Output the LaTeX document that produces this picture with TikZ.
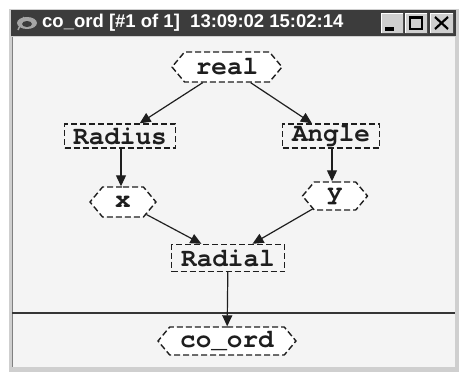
\documentclass[tikz,border=0pt]{standalone}
\usepackage{fontspec}
\newfontfamily\monofam{TeX Gyre Cursor}
\newfontfamily\titlefam{Liberation Sans}
\usetikzlibrary{shapes.symbols,arrows.meta}
\definecolor{bgcont}{HTML}{F4F4F4}
\definecolor{titlebar}{HTML}{3C3C3C}
\definecolor{frame}{HTML}{CFCFCF}
\definecolor{ink}{HTML}{1E1E1E}
\tikzset{
  hexnode/.style={signal, signal to=east and west, signal pointer angle=100,
    draw=ink, dash pattern=on 6pt off 3pt, line width=1.4pt, fill=white,
    inner sep=0pt, font=\monofam\bfseries\fontsize{26}{26}\selectfont, text=ink},
  boxnode/.style={rectangle, draw=ink, dash pattern=on 6pt off 3pt, line width=1.4pt,
    inner sep=0pt, font=\monofam\bfseries\fontsize{26}{26}\selectfont, text=ink},
  conn/.style={draw=ink, line width=1.2pt, -{Triangle[length=11pt,width=10pt]}},
}
\begin{document}
\begin{tikzpicture}[x=1pt,y=-1pt]
\useasboundingbox (0,0) rectangle (459,372);
\fill[white] (0,0) rectangle (459,372);
% window frame
\fill[frame] (8,8) rectangle (459,372);
\draw[white, line width=1pt] (8.5,372) -- (8.5,8.5) -- (459,8.5);
\fill[titlebar] (11,10) rectangle (456,36);
\fill[bgcont] (12,37) rectangle (455,367);
\draw[gray, line width=0.8pt] (12,37) -- (12,367);
% title
\node[anchor=west, text=white, font=\titlefam\bfseries\fontsize{18.5}{19}\selectfont, inner sep=0pt] (title) at (42,23) {co\_ord [\#1 of 1]\ \ 13:09:02 15:02:14};
% icon
\fill[gray!70] (27,23) ellipse (10pt and 6pt);
\fill[titlebar] (27,24) ellipse (5pt and 3pt);
\draw[gray!70, line width=1.5pt] (18,30) -- (24,17);
% buttons
\fill[frame] (381,13) rectangle (403,33);
\draw[white, line width=1pt] (381,33) -- (381,13) -- (403,13);
\draw[black!70, line width=1pt] (381,33) -- (403,33) -- (403,13);
\fill[black] (385,27) rectangle (394,31);
\fill[frame] (405,13) rectangle (427,33);
\draw[white, line width=1pt] (405,33) -- (405,13) -- (427,13);
\draw[black!70, line width=1pt] (405,33) -- (427,33) -- (427,13);
\draw[black, line width=1.2pt] (410,17) rectangle (422,29);
\draw[black, line width=2pt] (410,18) -- (422,18);
\fill[frame] (430,13) rectangle (453,33);
\draw[white, line width=1pt] (430,33) -- (430,13) -- (453,13);
\draw[black!70, line width=1pt] (430,33) -- (453,33) -- (453,13);
\draw[black, line width=2.2pt] (435,17) -- (448,29) (448,17) -- (435,29);
% separator line
\draw[ink!90, line width=2pt] (12,313) -- (455,313);
% nodes
\node[hexnode, minimum width=110pt, minimum height=30pt] (real) at (227,67) {real};
\node[boxnode, minimum width=111pt, minimum height=24pt] (radius) at (120,136) {Radius};
\node[boxnode, minimum width=97pt, minimum height=24pt] (angle) at (331,136) {Angle};
\node[hexnode, minimum width=66pt, minimum height=30pt] (xn) at (123,202) {x};
\node[hexnode, minimum width=65pt, minimum height=28pt] (yn) at (335,196) {y};
\node[boxnode, minimum width=113pt, minimum height=27pt] (radial) at (228,258) {Radial};
\node[hexnode, minimum width=138pt, minimum height=28pt] (coord) at (227,341) {co\_ord};
% connectors
\draw[conn] (real) -- (radius);
\draw[conn] (real) -- (angle);
\draw[conn] (radius.south -| 121,0) -- (xn.north -| 121,0);
\draw[conn] (angle.south -| 332,0) -- (yn.north -| 332,0);
\draw[conn] (xn) -- (radial);
\draw[conn] (yn) -- (radial);
\draw[conn] (radial) -- (coord);
\end{tikzpicture}
\end{document}
